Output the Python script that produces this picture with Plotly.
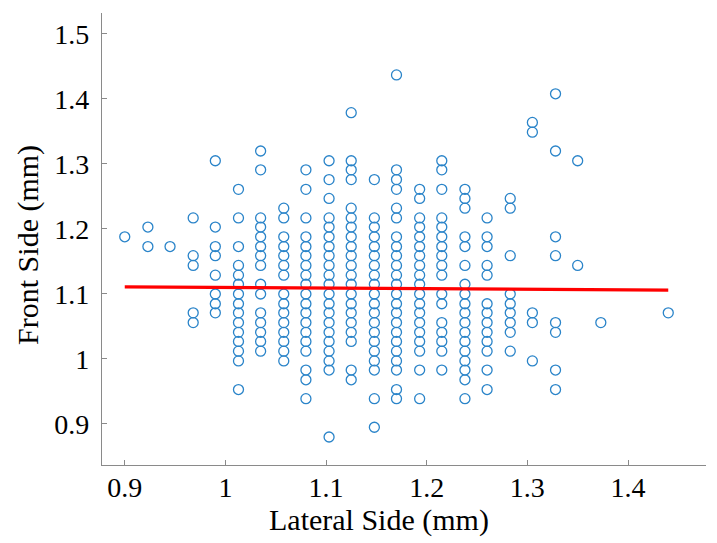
import plotly.graph_objects as go

# Lateral side values (mm), one per column of points
lateral_columns = [0.900, 0.923, 0.945, 0.968, 0.990, 1.013, 1.035, 1.058, 1.080,
                   1.103, 1.125, 1.148, 1.170, 1.193, 1.215, 1.238, 1.260, 1.283,
                   1.305, 1.328, 1.350, 1.373, 1.440]

# Front side values (mm) for each lateral column
front_by_column = [
    [1.188],
    [1.203, 1.173],
    [1.173],
    [1.217, 1.159, 1.144, 1.071, 1.056],
    [1.305, 1.203, 1.173, 1.159, 1.129, 1.100, 1.085, 1.071],
    [1.261, 1.217, 1.173, 1.144, 1.129, 1.115, 1.100, 1.085, 1.071, 1.056, 1.041, 1.027, 1.012, 0.997, 0.953],
    [1.320, 1.291, 1.217, 1.203, 1.188, 1.173, 1.159, 1.144, 1.115, 1.100, 1.071, 1.056, 1.041, 1.027, 1.012],
    [1.232, 1.217, 1.188, 1.173, 1.159, 1.144, 1.129, 1.100, 1.085, 1.071, 1.056, 1.041, 1.027, 1.012, 0.997],
    [1.291, 1.261, 1.217, 1.188, 1.173, 1.159, 1.144, 1.129, 1.115, 1.100, 1.085, 1.071, 1.056, 1.041, 1.027, 1.012, 0.983, 0.968, 0.939],
    [1.305, 1.276, 1.247, 1.217, 1.203, 1.188, 1.173, 1.159, 1.144, 1.129, 1.115, 1.100, 1.085, 1.071, 1.056, 1.041, 1.027, 1.012, 0.997, 0.983, 0.880],
    [1.379, 1.305, 1.291, 1.276, 1.232, 1.217, 1.203, 1.188, 1.173, 1.159, 1.144, 1.129, 1.115, 1.100, 1.085, 1.071, 1.056, 1.041, 1.027, 0.983, 0.968],
    [1.276, 1.217, 1.203, 1.188, 1.173, 1.159, 1.144, 1.129, 1.115, 1.100, 1.085, 1.071, 1.056, 1.041, 1.027, 1.012, 0.997, 0.983, 0.939, 0.895],
    [1.437, 1.291, 1.276, 1.261, 1.232, 1.217, 1.188, 1.173, 1.159, 1.144, 1.129, 1.115, 1.100, 1.085, 1.071, 1.056, 1.041, 1.027, 1.012, 0.997, 0.983, 0.953, 0.939],
    [1.261, 1.247, 1.217, 1.203, 1.188, 1.173, 1.159, 1.144, 1.129, 1.115, 1.100, 1.085, 1.071, 1.056, 1.041, 1.027, 1.012, 0.983, 0.939],
    [1.305, 1.291, 1.261, 1.217, 1.203, 1.188, 1.173, 1.159, 1.144, 1.129, 1.100, 1.085, 1.056, 1.041, 1.027, 1.012, 0.983],
    [1.261, 1.247, 1.232, 1.188, 1.173, 1.144, 1.115, 1.100, 1.085, 1.071, 1.056, 1.041, 1.027, 1.012, 0.997, 0.983, 0.968, 0.939],
    [1.217, 1.188, 1.173, 1.144, 1.129, 1.085, 1.071, 1.056, 1.041, 1.027, 1.012, 0.983, 0.953],
    [1.247, 1.232, 1.159, 1.100, 1.085, 1.071, 1.056, 1.041, 1.012],
    [1.364, 1.349, 1.071, 1.056, 0.997],
    [1.408, 1.320, 1.188, 1.159, 1.056, 1.041, 0.983, 0.953],
    [1.305, 1.144],
    [1.056],
    [1.071],
]

# Fitted line end points
fit_x = [0.900, 1.440]
fit_y = [1.111, 1.106]

x_tick_vals = [0.9, 1.0, 1.1, 1.2, 1.3, 1.4]
x_tick_text = ["0.9", "1", "1.1", "1.2", "1.3", "1.4"]
y_tick_vals = [0.9, 1.0, 1.1, 1.2, 1.3, 1.4, 1.5]
y_tick_text = ["0.9", "1", "1.1", "1.2", "1.3", "1.4", "1.5"]

lateral = []
front = []
for lx, col in zip(lateral_columns, front_by_column):
    for fy in col:
        lateral.append(lx)
        front.append(fy)

FONT = "Liberation Serif, Times New Roman, serif"

fig = go.Figure()
fig.add_trace(go.Scatter(
    x=lateral, y=front, mode="markers",
    marker=dict(symbol="circle-open", size=10, color="#2a84c9",
                line=dict(width=1.3, color="#2a84c9")),
    showlegend=False, hoverinfo="x+y"))
fig.add_trace(go.Scatter(
    x=fit_x, y=fit_y, mode="lines",
    line=dict(color="#ff0000", width=3.2),
    showlegend=False))

axis_common = dict(
    showline=True, linecolor="#8a8a8a", linewidth=1.2,
    ticks="inside", ticklen=5, tickcolor="#8a8a8a", tickwidth=1,
    showgrid=False, zeroline=False, automargin=False,
    tickfont=dict(family=FONT, size=28, color="#000000"),
    mirror=False,
)

fig.update_layout(
    width=717, height=543,
    margin=dict(l=102, r=11, t=13, b=78),
    paper_bgcolor="white", plot_bgcolor="white",
    xaxis=dict(range=[0.8774, 1.4775], tickvals=x_tick_vals, ticktext=x_tick_text,
               ticklabelstandoff=-3, **axis_common),
    yaxis=dict(range=[0.8369, 1.5323], tickvals=y_tick_vals, ticktext=y_tick_text,
               ticklabelstandoff=6, **axis_common),
    annotations=[
        dict(text="Lateral Side (mm)", xref="paper", yref="paper",
             x=0.458, y=-0.1217, xanchor="center", yanchor="middle",
             showarrow=False, font=dict(family=FONT, size=30, color="#000000")),
        dict(text="Front Side (mm)", xref="paper", yref="paper",
             x=-0.1225, y=0.487, xanchor="center", yanchor="middle", textangle=-90,
             showarrow=False, font=dict(family=FONT, size=30, color="#000000")),
    ],
)

fig.write_html("out.html", config={"displayModeBar": False},
               post_script="document.body.style.margin='0';document.body.style.overflow='hidden';")
